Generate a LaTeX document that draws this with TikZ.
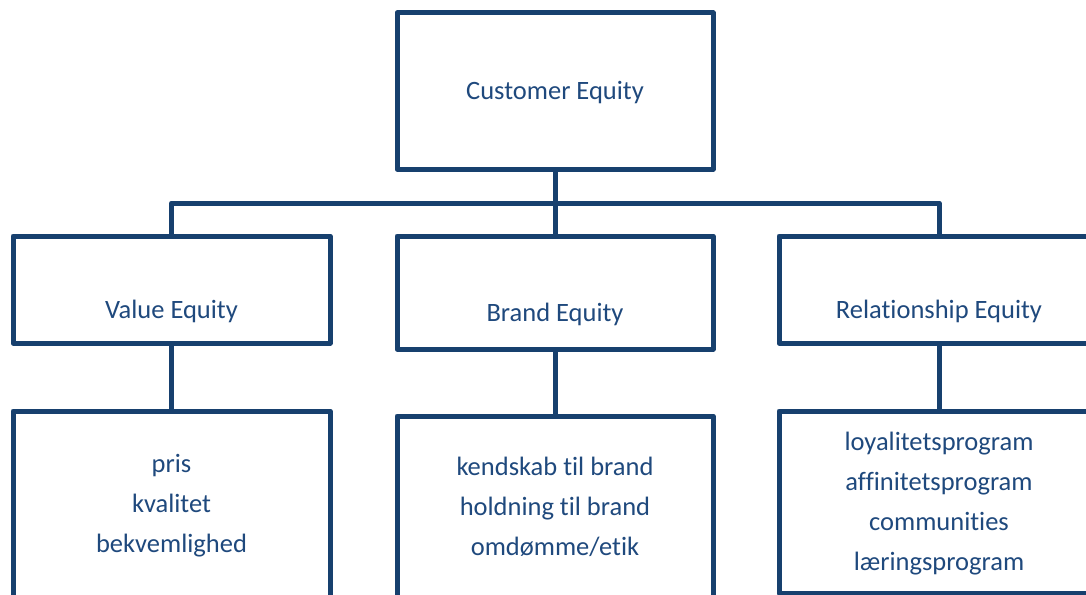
\documentclass[tikz,border=0pt]{standalone}
\usepackage{fontspec}
\setmainfont{Carlito}[Ligatures={NoCommon}]
\definecolor{boxblue}{RGB}{23,64,110}
\definecolor{textblue}{RGB}{31,73,125}
\tikzset{
  box/.style={draw=boxblue, line width=5pt, line join=round, rectangle, inner sep=0pt},
  wire/.style={draw=boxblue, line width=5pt, line join=round},
  lbl/.style={text=textblue, font=\fontsize{26.5}{40}\selectfont, align=center, inner sep=0pt, anchor=base}
}
\begin{document}
\begin{tikzpicture}[x=1pt,y=-1pt]
                \useasboundingbox (0,0) rectangle (1086,594);
                \clip (0,0) rectangle (1086,594);
                \fill[white] (0,0) rectangle (1086,594);
                % level one
                \node[box, minimum width=316pt, minimum height=156pt] (ce) at (555,91) {};
                \node[lbl] (ceT) at (555,99) {Customer Equity};
                % level two
                \node[box, minimum width=317pt, minimum height=107pt] (ve) at (171.5,289.5) {};
                \node[box, minimum width=316pt, minimum height=113pt] (be) at (555,292.5) {};
                \node[box, minimum width=320pt, minimum height=107pt] (re) at (939,289.5) {};
                \node[lbl] (veT) at (171.5,318) {Value Equity};
                \node[lbl] (beT) at (555,321) {Brand Equity};
                \node[lbl] (reT) at (939,318) {Relationship Equity};
                % level three (base = last line)
                \node[box, minimum width=317pt, minimum height=210pt] (vd) at (171.5,516) {};
                \node[box, minimum width=316pt, minimum height=205pt] (bd) at (555,518.5) {};
                \node[box, minimum width=320pt, minimum height=182pt] (rd) at (939,502) {};
                \node[lbl] (vdT) at (171.5,552) {pris\\kvalitet\\bekvemlighed};
                \node[lbl] (bdT) at (555,555) {kendskab til brand\\holdning til brand\\omdømme/etik};
                \node[lbl] (rdT) at (939,570) {loyalitetsprogram\\affinitetsprogram\\communities\\læringsprogram};
                % connectors
                \coordinate (bus) at (555,203);
                \draw[wire] (ce.south) -- (bus);
                \draw[wire] (ve.north) |- (bus) -| (re.north);
                \draw[wire] (bus) -- (be.north);
                \draw[wire] (ve.south) -- (vd.north);
                \draw[wire] (be.south) -- (bd.north);
                \draw[wire] (re.south) -- (rd.north);
\end{tikzpicture}
\end{document}
